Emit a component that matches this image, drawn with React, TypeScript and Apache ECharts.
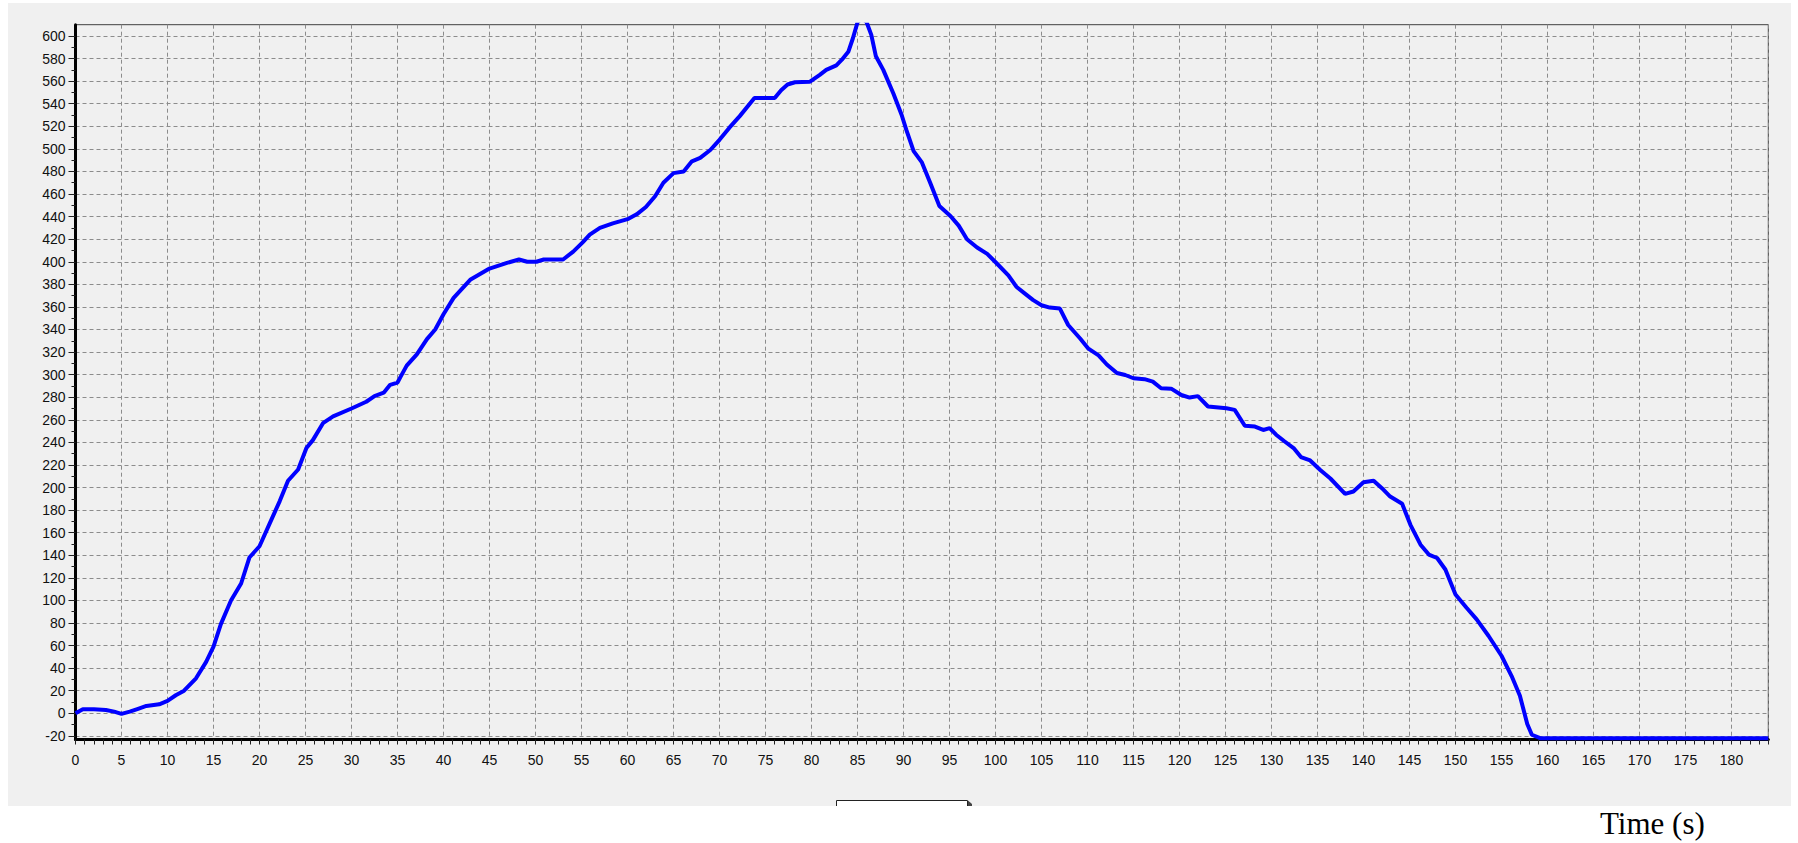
import React, { useEffect, useRef } from "react";
import * as echarts from "echarts";

// Time (s) of each read point
const timeValues: number[] = [
  0, 0.8, 2, 3.3, 4.2, 5, 5.9, 6.8, 7.7, 9.1, 10, 10.9, 11.8, 13.1, 14.2, 15, 15.8, 16.9, 18, 18.9,
  20, 21.1, 22.2, 23.1, 24.2, 25.1, 25.8, 26.9, 28, 30, 31.6, 32.5, 33.5, 34.2, 35, 35.3, 36, 37.1, 38.2, 39.1,
  40, 41.1, 42.9, 45, 46.9, 48.2, 49.1, 50.1, 50.9, 53, 54.1, 55.1, 55.9, 57, 58.4, 60.1, 61, 62, 63, 63.9,
  65, 66.1, 67, 67.9, 69, 70, 71.1, 72.2, 73.8, 76, 76.7, 77.4, 78.2, 79.8, 80.9, 81.6, 82.7, 83.3, 84, 84.5,
  85, 85.5, 86, 86.5, 87, 87.8, 88.9, 89.8, 90.3, 91.1, 92, 92.9, 93.9, 95.1, 96, 96.9, 98, 99.1, 100.2, 101.4,
  102.3, 103.2, 104.1, 105, 105.9, 107, 107.9, 109.2, 110.1, 111.2, 112.1, 113.2, 114.1, 115, 116.2, 117.1, 118, 119.1, 120.2, 121.1,
  122, 123.1, 125.1, 126, 127.1, 128.2, 129.1, 129.8, 130.5, 131.4, 132.4, 133.2, 134.2, 135.3, 136.4, 138, 138.9, 140, 141.1, 142,
  142.9, 144.2, 145.1, 146.2, 147.1, 148, 148.9, 150, 151.2, 152.3, 153.6, 155, 156.1, 157, 157.8, 158.3, 159.2, 184,
];

// Curve value at each time
const curveValues: number[] = [
  0, 3.5, 3.5, 3, 1.5, -0.5, 1.5, 4, 6.5, 8, 11, 16, 20, 31, 45.6, 59, 79, 100, 115, 138,
  148, 168, 188, 206, 216, 235, 242, 257, 263, 270, 276, 281, 284, 291, 293, 297.6, 308, 318, 331.5, 340,
  353.5, 368, 384, 394, 399, 402, 400, 400, 402, 402, 409, 417, 424, 430, 434, 438, 442, 448.5, 458, 470,
  478.5, 480, 489, 492, 499, 508, 519, 529, 545, 545, 552, 557, 559, 559.4, 565.6, 570, 574, 579, 586, 598,
  612, 616, 612, 601, 582, 570, 549, 530, 517, 498, 488, 470, 449.4, 440.6, 432, 420, 412.6, 407, 398, 388,
  377.6, 371.8, 366, 361.5, 359.4, 358.5, 344, 332, 323, 317, 309, 301.5, 299.7, 296.8, 296, 293.8, 288, 287.6, 282, 279.7,
  281, 271.8, 270.3, 268.8, 254.7, 254, 251, 252.6, 246.8, 241, 235, 227, 224, 215.6, 208, 194.4, 196.5, 204.7, 206, 199.4,
  192, 185.6, 167, 149.4, 140.6, 137.6, 127.4, 105.3, 93.5, 83.2, 68.5, 51, 33, 15.6, -9.4, -19, -22, -22,
];

// Axis ranges and tick steps
const X_MIN = 0;
const X_MAX = 184;
const X_STEP = 5;
const Y_MIN = -23.2; // visible bottom of the plot
const Y_MAX = 610; // visible top of the plot
const Y_TICK_MIN = -20; // first labelled tick
const Y_TICK_MAX = 600; // last labelled tick
const Y_STEP = 20;
const xAxisTitle = "Time (s)";

// Plot frame in pixels
const PLOT_LEFT = 75.5;
const PLOT_TOP = 24.7;
const PLOT_WIDTH = 1692.8;
const PLOT_HEIGHT = 714.8;

export default function App() {
  const ref = useRef<HTMLDivElement>(null);

  useEffect(() => {
    if (!ref.current) return;
    const chart = echarts.init(ref.current, undefined, { renderer: "svg" });
    const data = timeValues.map((t, i) => [t, curveValues[i]]);
    const labelFont = {
      fontFamily: "Liberation Sans",
      fontSize: 14,
      color: "#111",
    };
    // the labelled y range occupies a sub-band of the plot frame
    const pxPerUnit = PLOT_HEIGHT / (Y_MAX - Y_MIN);
    const bandTop = PLOT_TOP + (Y_MAX - Y_TICK_MAX) * pxPerUnit;
    const bandHeight = (Y_TICK_MAX - Y_TICK_MIN) * pxPerUnit;

    const option: any = {
      animation: false,
      backgroundColor: "#ffffff",
      grid: [
        {
          left: PLOT_LEFT,
          top: PLOT_TOP,
          width: PLOT_WIDTH,
          height: PLOT_HEIGHT,
          show: true,
          borderColor: "#404040",
          borderWidth: 1,
          backgroundColor: "transparent",
          containLabel: false,
        },
        {
          left: PLOT_LEFT,
          top: bandTop,
          width: PLOT_WIDTH,
          height: bandHeight,
          show: false,
          containLabel: false,
        },
      ],
      xAxis: [
        {
          gridIndex: 0,
          type: "value",
          min: X_MIN,
          max: X_MAX,
          interval: X_STEP,
          position: "bottom",
          axisLine: { show: true, onZero: false, lineStyle: { color: "#000", width: 3 } },
          axisTick: { show: true, inside: false, length: 5, lineStyle: { color: "#222", width: 1 } },
          minorTick: { show: true, splitNumber: 5, length: 5, lineStyle: { color: "#222", width: 1 } },
          axisLabel: { ...labelFont, margin: 13, showMaxLabel: false },
          splitLine: { show: true, lineStyle: { color: "#8c8c8c", width: 1, type: [4, 3] } },
        },
        {
          gridIndex: 1,
          type: "value",
          min: X_MIN,
          max: X_MAX,
          show: false,
        },
      ],
      yAxis: [
        {
          gridIndex: 0,
          type: "value",
          min: Y_MIN,
          max: Y_MAX,
          position: "left",
          axisLine: { show: true, onZero: false, lineStyle: { color: "#000", width: 3 } },
          axisTick: { show: false },
          axisLabel: { show: false },
          splitLine: { show: false },
        },
        {
          gridIndex: 1,
          type: "value",
          min: Y_TICK_MIN,
          max: Y_TICK_MAX,
          interval: Y_STEP,
          position: "left",
          axisLine: { show: false, onZero: false },
          axisTick: { show: true, inside: false, length: 7, lineStyle: { color: "#222", width: 1 } },
          minorTick: { show: true, splitNumber: 2, length: 4, lineStyle: { color: "#222", width: 1 } },
          axisLabel: { ...labelFont, margin: 10 },
          splitLine: { show: true, lineStyle: { color: "#8c8c8c", width: 1, type: [4, 3] } },
        },
      ],
      series: [
        {
          type: "line",
          xAxisIndex: 0,
          yAxisIndex: 0,
          data,
          showSymbol: false,
          symbol: "none",
          clip: true,
          lineStyle: { color: "#0000ff", width: 4 },
          z: 5,
        },
      ],
      graphic: {
        elements: [
          {
            type: "rect",
            z: -100,
            silent: true,
            shape: { x: 8, y: 3, width: 1783, height: 803 },
            style: { fill: "#f0f0f0" },
          },
          {
            type: "rect",
            z: 10,
            silent: true,
            shape: { x: 836, y: 800, width: 132, height: 6 },
            style: { fill: "#ffffff" },
          },
          {
            type: "polyline",
            z: 11,
            silent: true,
            shape: { points: [[836.5, 806], [836.5, 800.5], [967.5, 800.5], [967.5, 806]] },
            style: { stroke: "#222", lineWidth: 1, fill: null },
          },
          {
            type: "polygon",
            z: 11,
            silent: true,
            shape: { points: [[968, 800.5], [972, 804], [972, 806], [968, 806]] },
            style: { fill: "#444" },
          },
          {
            type: "text",
            z: 11,
            silent: true,
            x: 1600,
            y: 823,
            style: {
              text: xAxisTitle,
              font: '31px "Liberation Serif"',
              fill: "#000",
              align: "left",
              verticalAlign: "middle",
            },
          },
        ],
      },
    };
    chart.setOption(option);
    return () => chart.dispose();
  }, []);

  return (
    <div
      ref={ref}
      style={{ position: "absolute", left: 0, top: 0, width: 1798, height: 843 }}
    />
  );
}
